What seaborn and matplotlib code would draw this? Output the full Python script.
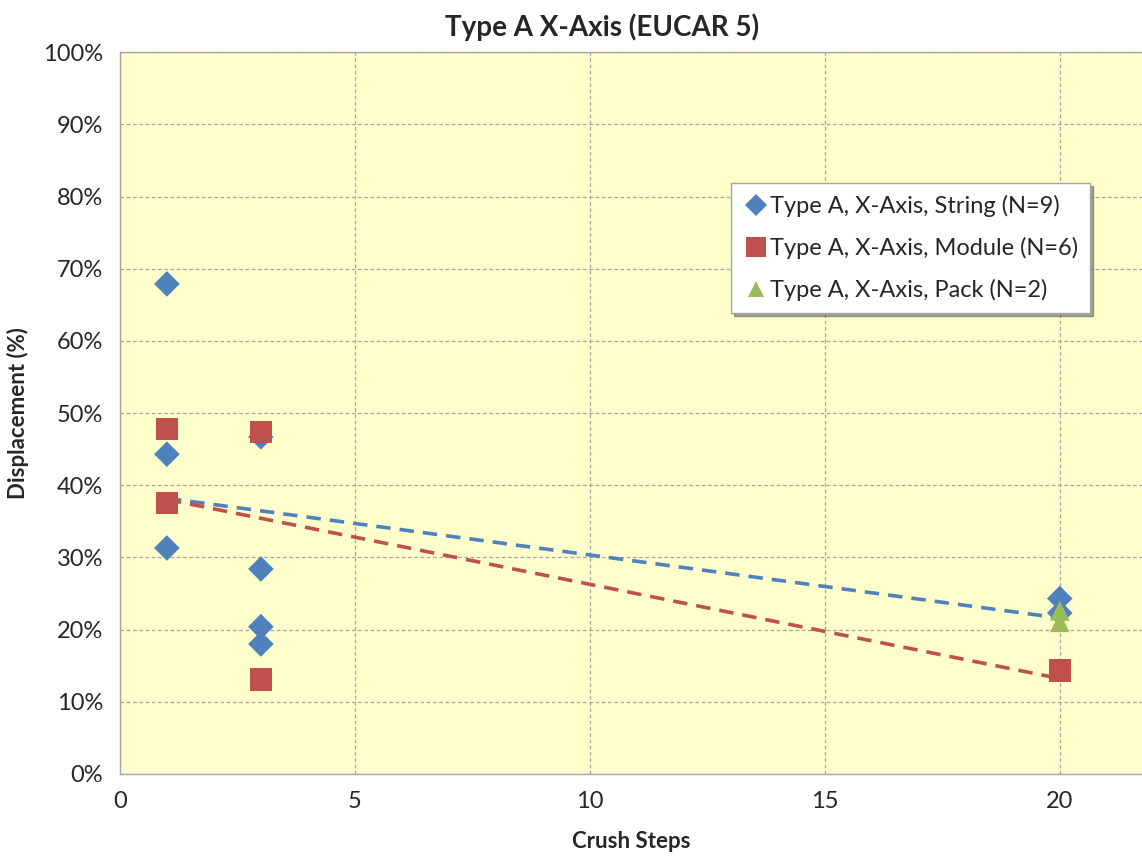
import pandas as pd
import matplotlib.pyplot as plt
import matplotlib.ticker as mtick
import seaborn as sns

# Valores (deslocamento em fração)
string_x = [1, 1, 1, 3, 3, 3, 3, 20, 20]
string_y = [0.679, 0.443, 0.313, 0.467, 0.284, 0.204, 0.180, 0.243, 0.223]

module_x = [1, 1, 3, 3, 20]
module_y = [0.478, 0.375, 0.474, 0.131, 0.143]

pack_x = [20, 20]
pack_y = [0.226, 0.210]

labels = ['Type A, X-Axis, String (N=9)',
          'Type A, X-Axis, Module (N=6)',
          'Type A, X-Axis, Pack (N=2)']
cores = {labels[0]: '#4F81BD', labels[1]: '#C0504D', labels[2]: '#9BBB59'}
marcadores = {labels[0]: 'D', labels[1]: 's', labels[2]: '^'}
tamanhos = {labels[0]: 170, labels[1]: 260, labels[2]: 200}

df = pd.concat([
    pd.DataFrame({'steps': string_x, 'disp': string_y, 'serie': labels[0]}),
    pd.DataFrame({'steps': module_x, 'disp': module_y, 'serie': labels[1]}),
    pd.DataFrame({'steps': pack_x, 'disp': pack_y, 'serie': labels[2]}),
], ignore_index=True)

sns.set_style("white")
plt.rcParams['font.family'] = ['Lato', 'DejaVu Sans']

fig = plt.figure(figsize=(11.42, 8.57), dpi=100)
ax = fig.add_axes([0.105, 0.097, 0.895, 0.842])
ax.set_facecolor('#FFFFCC')

# Linhas de tendência (regressão linear)
sns.regplot(x=string_x, y=string_y, scatter=False, ci=None, ax=ax,
            line_kws={'color': cores[labels[0]], 'linestyle': (0, (4, 2.5)), 'linewidth': 2.6})
sns.regplot(x=module_x, y=module_y, scatter=False, ci=None, ax=ax,
            line_kws={'color': cores[labels[1]], 'linestyle': (0, (4, 2.5)), 'linewidth': 2.6})

sns.scatterplot(data=df, x='steps', y='disp', hue='serie', style='serie',
                size='serie', sizes=tamanhos,
                palette=cores, markers=marcadores, linewidth=0, ax=ax, zorder=3)

ax.set_xlim(0, 21.75)
ax.set_ylim(0, 1.0)
ax.set_xticks([0, 5, 10, 15, 20])
ax.set_yticks([i / 10 for i in range(11)])
ax.yaxis.set_major_formatter(mtick.PercentFormatter(1.0, decimals=0))

ax.grid(True, color='#A6A6A6', linestyle=(0, (3, 2)), linewidth=0.9)
ax.set_axisbelow(True)
for lado in ['left', 'bottom', 'top']:
    ax.spines[lado].set_color('#A6A6A6')
    ax.spines[lado].set_linewidth(1.0)
ax.spines['right'].set_visible(False)
ax.tick_params(axis='both', length=6, color='#A6A6A6', labelsize=17, labelcolor='#262626', pad=6)

ax.set_xlabel('Crush Steps', fontsize=16, fontweight='bold', labelpad=14)
ax.set_ylabel('Displacement (%)', fontsize=16, fontweight='bold', labelpad=10)
ax.set_title('Type A X-Axis (EUCAR 5)', fontsize=20, fontweight='bold', pad=12,
             x=(602 - 120) / 1022)

handles, textos = ax.get_legend_handles_labels()
leg = ax.legend(handles, textos, loc='upper left', bbox_to_anchor=(731 / 1142, 1 - 183 / 857),
                bbox_transform=fig.transFigure, frameon=True, fancybox=False,
                shadow=True, fontsize=17, handletextpad=0.05, handlelength=1.1,
                borderpad=0.5, labelspacing=0.85, markerscale=0.85, borderaxespad=0)
leg.get_frame().set_edgecolor('#A6A6A6')
leg.get_frame().set_facecolor('white')

plt.savefig('out.png', dpi=100)
